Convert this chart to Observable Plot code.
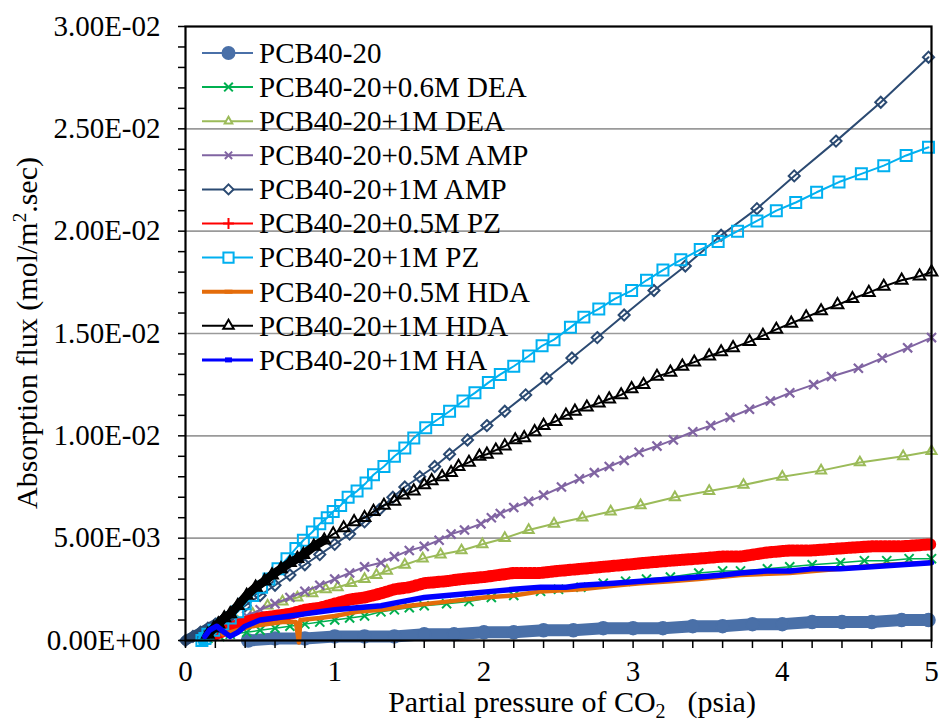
<!DOCTYPE html>
<html><head><meta charset="utf-8">
<script src="https://cdn.jsdelivr.net/npm/d3@7"></script>
<script src="https://cdn.jsdelivr.net/npm/@observablehq/plot@0.6"></script>
<style>
html,body{margin:0;padding:0;background:#fff;}
#chart{width:940px;height:723px;}
</style></head><body><div id="chart"></div>
<script>
const FONT = "Liberation Serif";

// ---- axis ticks ----
const xTicks = [0, 1, 2, 3, 4, 5];
const xTickLabels = ["0", "1", "2", "3", "4", "5"];
const xMinor = [0.2,0.4,0.6,0.8,1.2,1.4,1.6,1.8,2.2,2.4,2.6,2.8,3.2,3.4,3.6,3.8,4.2,4.4,4.6,4.8];
const yTicks = [0, 0.005, 0.01, 0.015, 0.02, 0.025, 0.03];
const yTickLabels = ["0.00E+00","5.00E-03","1.00E-02","1.50E-02","2.00E-02","2.50E-02","3.00E-02"];
const yMinor = [0.001,0.002,0.003,0.004,0.006,0.007,0.008,0.009,0.011,0.012,0.013,0.014,0.016,0.017,0.018,0.019,0.021,0.022,0.023,0.024,0.026,0.027,0.028,0.029];
const yGrid = [0.005, 0.01, 0.015, 0.02, 0.025];

// ---- series names ----
const seriesNames = ["PCB40-20","PCB40-20+0.6M DEA","PCB40-20+1M DEA","PCB40-20+0.5M AMP","PCB40-20+1M AMP","PCB40-20+0.5M PZ","PCB40-20+1M PZ","PCB40-20+0.5M HDA","PCB40-20+1M HDA","PCB40-20+1M HA"];
const seriesColors = ["#4A70A8","#00B050","#9BBB59","#8064A2","#2B4A72","#FF0000","#00B0F0","#E46C0A","#000000","#0000FF"];

// ---- data [psia, flux] ----
const pcb = [[0.42,0.0000],[0.60,0.0001],[0.80,0.0001],[1.00,0.0002],[1.20,0.0002],[1.40,0.0002],[1.60,0.0003],[1.80,0.0003],[2.00,0.0004],[2.20,0.0004],[2.40,0.0005],[2.60,0.0005],[2.80,0.0006],[3.00,0.0006],[3.20,0.0006],[3.40,0.0007],[3.60,0.0007],[3.80,0.0008],[4.00,0.0008],[4.20,0.0009],[4.40,0.0009],[4.60,0.0009],[4.80,0.0010],[4.98,0.0010]];
const dea06 = [[0.15,0.0001],[0.23,0.0002],[0.30,0.0003],[0.41,0.0004],[0.50,0.0005],[0.60,0.0006],[0.70,0.0007],[0.80,0.0008],[0.90,0.0009],[1.00,0.0010],[1.10,0.0011],[1.20,0.0012],[1.31,0.0014],[1.40,0.0015],[1.50,0.0016],[1.60,0.0017],[1.75,0.0018],[1.90,0.0019],[2.05,0.0021],[2.20,0.0022],[2.38,0.0024],[2.50,0.0025],[2.65,0.0026],[2.80,0.0028],[2.95,0.0029],[3.09,0.0030],[3.25,0.0031],[3.44,0.0033],[3.60,0.0034],[3.72,0.0034],[3.90,0.0035],[4.05,0.0036],[4.20,0.0037],[4.39,0.0038],[4.55,0.0039],[4.70,0.0039],[4.85,0.0040],[5.00,0.0040]];
const dea1 = [[0.25,0.0005],[0.35,0.0009],[0.45,0.0013],[0.55,0.0017],[0.65,0.0019],[0.75,0.0021],[0.85,0.0023],[0.94,0.0025],[1.02,0.0026],[1.11,0.0028],[1.20,0.0030],[1.28,0.0032],[1.35,0.0034],[1.47,0.0037],[1.59,0.0040],[1.71,0.0042],[1.85,0.0044],[1.99,0.0047],[2.14,0.0050],[2.30,0.0054],[2.47,0.0057],[2.66,0.0060],[2.85,0.0063],[3.05,0.0066],[3.28,0.0070],[3.51,0.0073],[3.74,0.0076],[4.00,0.0080],[4.26,0.0083],[4.52,0.0087],[4.81,0.0090],[5.00,0.00925]];
const amp05 = [[0.20,0.0006],[0.30,0.0009],[0.41,0.0012],[0.50,0.0015],[0.60,0.0018],[0.70,0.0021],[0.80,0.0024],[0.90,0.0027],[1.00,0.0030],[1.10,0.0033],[1.20,0.0036],[1.31,0.0038],[1.40,0.0041],[1.50,0.0044],[1.60,0.0046],[1.70,0.0049],[1.78,0.0052],[1.87,0.0054],[1.98,0.0057],[2.05,0.0060],[2.11,0.0062],[2.20,0.0065],[2.30,0.0068],[2.40,0.0071],[2.52,0.0075],[2.64,0.0079],[2.74,0.0082],[2.84,0.0085],[2.94,0.0088],[3.04,0.0092],[3.16,0.0095],[3.27,0.0098],[3.40,0.0102],[3.52,0.0105],[3.65,0.0109],[3.78,0.0113],[3.92,0.0117],[4.05,0.0121],[4.21,0.0125],[4.33,0.0129],[4.51,0.0133],[4.67,0.0138],[4.84,0.0143],[5.00,0.0148]];
const amp1 = [[0.00,0.0000],[0.05,0.0002],[0.10,0.0004],[0.15,0.0006],[0.20,0.0008],[0.25,0.0010],[0.30,0.0012],[0.40,0.0017],[0.50,0.0022],[0.60,0.0027],[0.70,0.0032],[0.80,0.0037],[0.90,0.0042],[1.00,0.0047],[1.10,0.0052],[1.20,0.0058],[1.30,0.0064],[1.39,0.0070],[1.47,0.0075],[1.57,0.0080],[1.67,0.0085],[1.77,0.0091],[1.89,0.0098],[2.02,0.0105],[2.14,0.0112],[2.28,0.0120],[2.42,0.0128],[2.59,0.0138],[2.76,0.0148],[2.94,0.0159],[3.14,0.0171],[3.35,0.0183],[3.59,0.0198],[3.83,0.0211],[4.08,0.0227],[4.36,0.0244],[4.66,0.0263],[4.98,0.0285]];
const pz05 = [[0.20,0.0003],[0.30,0.0006],[0.40,0.0009],[0.50,0.0011],[0.60,0.0012],[0.70,0.0013],[0.80,0.0015],[0.90,0.0016],[1.00,0.0018],[1.10,0.0020],[1.20,0.0021],[1.31,0.0023],[1.40,0.0025],[1.50,0.0026],[1.60,0.0028],[1.75,0.0029],[1.85,0.0030],[2.00,0.0031],[2.10,0.0032],[2.20,0.0033],[2.38,0.0033],[2.50,0.0034],[2.65,0.0035],[2.80,0.0036],[2.95,0.0037],[3.09,0.0038],[3.25,0.0039],[3.44,0.0040],[3.60,0.0041],[3.72,0.0041],[3.90,0.0043],[4.05,0.0044],[4.20,0.0044],[4.39,0.0045],[4.60,0.0046],[4.80,0.0046],[5.00,0.0047]];
const pz1 = [[0.11,0.0000],[0.13,0.0001],[0.15,0.0003],[0.19,0.0005],[0.25,0.0008],[0.30,0.0011],[0.35,0.0014],[0.40,0.0018],[0.45,0.0022],[0.51,0.0026],[0.56,0.0030],[0.62,0.0035],[0.68,0.0040],[0.74,0.0045],[0.79,0.0049],[0.85,0.0053],[0.90,0.0057],[0.95,0.0060],[0.99,0.0063],[1.04,0.0066],[1.09,0.0070],[1.15,0.0073],[1.21,0.0077],[1.26,0.0081],[1.33,0.0085],[1.40,0.0090],[1.47,0.0094],[1.53,0.0099],[1.61,0.0104],[1.69,0.0108],[1.77,0.0112],[1.86,0.0117],[1.94,0.0121],[2.03,0.0126],[2.11,0.0130],[2.20,0.0134],[2.30,0.0139],[2.39,0.0144],[2.47,0.0147],[2.58,0.0153],[2.67,0.0158],[2.77,0.0162],[2.88,0.0167],[2.99,0.0171],[3.09,0.0176],[3.20,0.0181],[3.32,0.0186],[3.45,0.0191],[3.57,0.0195],[3.70,0.0200],[3.83,0.0205],[3.96,0.0210],[4.09,0.0214],[4.23,0.0219],[4.38,0.0224],[4.53,0.0228],[4.68,0.0232],[4.83,0.0237],[4.98,0.0241]];
const hda05 = [[0.25,0.0003],[0.35,0.0005],[0.45,0.0007],[0.55,0.0008],[0.65,0.0009],[0.74,0.0009],[0.76,-0.0001],[0.77,0.0010],[0.90,0.0011],[1.00,0.0012],[1.15,0.0014],[1.31,0.0015],[1.50,0.0017],[1.75,0.0019],[2.00,0.0021],[2.20,0.0022],[2.38,0.0024],[2.65,0.0025],[2.90,0.0027],[3.05,0.0028],[3.25,0.0029],[3.44,0.0030],[3.72,0.0032],[4.05,0.0033],[4.39,0.0035],[4.70,0.0037],[5.00,0.0038]];
const hda1 = [[0.15,0.0003],[0.19,0.0006],[0.22,0.0008],[0.26,0.0011],[0.30,0.0013],[0.35,0.0017],[0.41,0.0022],[0.47,0.0026],[0.53,0.0029],[0.58,0.0032],[0.64,0.0035],[0.70,0.0038],[0.75,0.0040],[0.79,0.0042],[0.86,0.0046],[0.93,0.0049],[0.99,0.0052],[1.06,0.0055],[1.13,0.0058],[1.20,0.0060],[1.26,0.0063],[1.33,0.0066],[1.40,0.0068],[1.46,0.0071],[1.53,0.0073],[1.60,0.0076],[1.65,0.0078],[1.72,0.0080],[1.78,0.0082],[1.83,0.0085],[1.90,0.0087],[1.97,0.0090],[2.02,0.0091],[2.08,0.0093],[2.14,0.0095],[2.21,0.0098],[2.27,0.0099],[2.34,0.0102],[2.40,0.0105],[2.48,0.0107],[2.55,0.0110],[2.61,0.0112],[2.69,0.0114],[2.77,0.0116],[2.84,0.0118],[2.92,0.0120],[2.99,0.0123],[3.07,0.0125],[3.16,0.0129],[3.25,0.0131],[3.33,0.0134],[3.41,0.0136],[3.51,0.0139],[3.59,0.0141],[3.67,0.0143],[3.78,0.0146],[3.87,0.0149],[3.96,0.0152],[4.06,0.0155],[4.16,0.0158],[4.26,0.0161],[4.37,0.0164],[4.47,0.0167],[4.58,0.0170],[4.68,0.0173],[4.80,0.0176],[4.92,0.0178],[5.00,0.0180]];
const ha1 = [[0.13,0.0002],[0.16,0.0005],[0.21,0.0007],[0.26,0.0004],[0.30,0.0002],[0.35,0.0004],[0.40,0.0007],[0.50,0.0010],[0.60,0.0011],[0.70,0.0012],[0.80,0.0013],[0.90,0.0014],[1.00,0.0015],[1.15,0.0016],[1.31,0.0017],[1.45,0.0019],[1.60,0.0021],[1.75,0.0022],[1.90,0.0023],[2.05,0.0024],[2.20,0.0025],[2.38,0.0026],[2.55,0.0026],[2.65,0.0027],[2.87,0.0028],[3.05,0.0029],[3.25,0.0030],[3.44,0.0031],[3.60,0.0032],[3.72,0.0033],[3.90,0.0034],[4.05,0.0034],[4.20,0.0035],[4.39,0.0035],[4.60,0.0036],[4.80,0.0037],[5.00,0.0038]];

const rows = a => a.map(([x, y]) => ({x, y}));
const upTo = (a, xmax) => a.filter(([x]) => x <= xmax);
const C = seriesColors;
const L = (data, o) => Plot.line(rows(data), {x: "x", y: "y", strokeLinejoin: "round", ...o});
const D = (data, o) => Plot.dot(rows(data), {x: "x", y: "y", ...o});

const yLabelMap = new Map(yTicks.map((v, i) => [v, yTickLabels[i]]));
const xLabelMap = new Map(xTicks.map((v, i) => [v, xTickLabels[i]]));
const axisText = {fontSize: 29, fontFamily: FONT, fontVariant: "normal"};

const plot = Plot.plot({
  width: 940, height: 723,
  marginLeft: 185, marginRight: 9, marginTop: 26, marginBottom: 83,
  style: {fontFamily: FONT, fontSize: "29px", color: "black", background: "white"},
  x: {domain: [0, 5]},
  y: {domain: [0, 0.03]},
  marks: [
    Plot.ruleY(yGrid, {stroke: "#9a9a9a", strokeWidth: 1.6}),
    // series 1 PCB40-20
    L(pcb, {stroke: C[0], strokeWidth: 12, strokeLinecap: "round"}),
    D(pcb, {r: 6.5, fill: C[0], stroke: C[0]}),
    // series 2 0.6M DEA
    L(dea06, {stroke: C[1], strokeWidth: 1.5}),
    D(dea06, {symbol: "times", r: 4.2, stroke: C[1], strokeWidth: 2}),
    // series 3 1M DEA
    L(dea1, {stroke: C[2], strokeWidth: 2}),
    D(dea1, {symbol: "triangle2", r: 4.8, stroke: C[2], strokeWidth: 2, fill: "none"}),
    // series 4 0.5M AMP
    L(amp05, {stroke: C[3], strokeWidth: 2}),
    D(amp05, {symbol: "times", r: 4.2, stroke: C[3], strokeWidth: 2.2}),
    // series 5 1M AMP (dense markers near the origin form a band)
    L(upTo(amp1, 0.32), {stroke: C[4], strokeWidth: 10, strokeLinecap: "round"}),
    L(amp1, {stroke: C[4], strokeWidth: 2}),
    D(amp1, {symbol: "diamond2", r: 5, stroke: C[4], strokeWidth: 2, fill: "none"}),
    // series 6 0.5M PZ
    L(pz05, {stroke: C[5], strokeWidth: 12, strokeDasharray: "2.2,2.2"}),
    L(pz05, {stroke: C[5], strokeWidth: 3}),
    // series 7 1M PZ
    L(upTo(pz1, 0.2), {stroke: C[6], strokeWidth: 9, strokeLinecap: "round"}),
    L(pz1, {stroke: C[6], strokeWidth: 2}),
    D(pz1, {symbol: "square2", r: 7, stroke: C[6], strokeWidth: 2, fill: "none"}),
    // series 8 0.5M HDA
    L(hda05, {stroke: C[7], strokeWidth: 4.5}),
    // series 9 1M HDA (dense markers at low pressure form a band)
    L(upTo(hda1, 0.95), {stroke: C[8], strokeWidth: 9, strokeLinecap: "round"}),
    L(hda1, {stroke: C[8], strokeWidth: 2}),
    D(hda1, {symbol: "triangle2", r: 5.6, stroke: C[8], strokeWidth: 2, fill: "none"}),
    // series 10 1M HA
    L(ha1, {stroke: C[9], strokeWidth: 5.5}),
    Plot.frame({stroke: "black", strokeWidth: 2.2}),
    Plot.axisY(yTicks, {tickSize: 7, tickPadding: 18, strokeWidth: 1.5, ...axisText, tickFormat: d => yLabelMap.get(d), label: null}),
    Plot.axisY(yMinor, {tickSize: 7, strokeWidth: 1.5, tickFormat: () => "", label: null}),
    Plot.axisX(xTicks, {tickSize: 8, tickPadding: 12, strokeWidth: 1.5, ...axisText, tickFormat: d => xLabelMap.get(d), label: null}),
    Plot.axisX(xMinor, {tickSize: 8, strokeWidth: 1.5, tickFormat: () => "", label: null})
  ]
});
document.getElementById("chart").append(plot);

const svg = d3.select(plot);
// axis titles
const xt = svg.append("text").attr("x", 572).attr("y", 712).attr("text-anchor", "middle")
  .attr("font-family", FONT).attr("font-size", 30).attr("fill", "black");
xt.append("tspan").text("Partial pressure of CO");
xt.append("tspan").attr("font-size", 20).attr("dy", 6).text("2");
xt.append("tspan").attr("dy", -6).attr("dx", 22).text("(psia)");

const yt = svg.append("text").attr("transform", "translate(37,333) rotate(-90)").attr("text-anchor", "middle")
  .attr("font-family", FONT).attr("font-size", 30).attr("fill", "black");
yt.append("tspan").text("Absorption flux (mol/m");
yt.append("tspan").attr("font-size", 19).attr("dy", -11).text("2");
yt.append("tspan").attr("dy", 11).text(".sec)");

// legend (inside plot)
const legendSpec = [
  {sym: d3.symbolCircle, r: 6, fill: true, lw: 2},
  {sym: d3.symbolTimes, r: 4, fill: false, lw: 2},
  {sym: d3.symbolTriangle2, r: 3.6, fill: false, lw: 2},
  {sym: d3.symbolTimes, r: 3.4, fill: false, lw: 2},
  {sym: d3.symbolDiamond2, r: 4.5, fill: false, lw: 2},
  {sym: d3.symbolPlus, r: 3.6, fill: false, lw: 2},
  {sym: d3.symbolSquare2, r: 6.5, fill: false, lw: 2},
  {sym: "rect", w: 8, h: 4, lw: 4},
  {sym: d3.symbolTriangle2, r: 5, fill: false, lw: 2},
  {sym: "rect", w: 7, h: 5, lw: 3}
];
const lg = svg.append("g");
seriesNames.forEach((name, i) => {
  const cy = 53 + i * 34.1;
  const spec = legendSpec[i];
  const col = seriesColors[i];
  lg.append("line").attr("x1", 202).attr("x2", 253).attr("y1", cy).attr("y2", cy)
    .attr("stroke", col).attr("stroke-width", spec.lw);
  if (spec.sym === "rect") {
    lg.append("rect").attr("x", 228.5 - spec.w / 2).attr("y", cy - spec.h / 2).attr("width", spec.w).attr("height", spec.h).attr("fill", col);
  } else {
    lg.append("path").attr("transform", `translate(228.5,${cy})`)
      .attr("d", d3.symbol(spec.sym, Math.PI * spec.r * spec.r)())
      .attr("fill", spec.fill ? col : (spec.sym === d3.symbolTimes || spec.sym === d3.symbolPlus ? "none" : "white"))
      .attr("stroke", col).attr("stroke-width", 2);
  }
  lg.append("text").attr("x", 259).attr("y", cy).attr("dy", "0.34em").attr("text-anchor", "start")
    .attr("font-family", FONT).attr("font-size", 29).attr("fill", "black").text(name);
});
</script>
</body></html>
